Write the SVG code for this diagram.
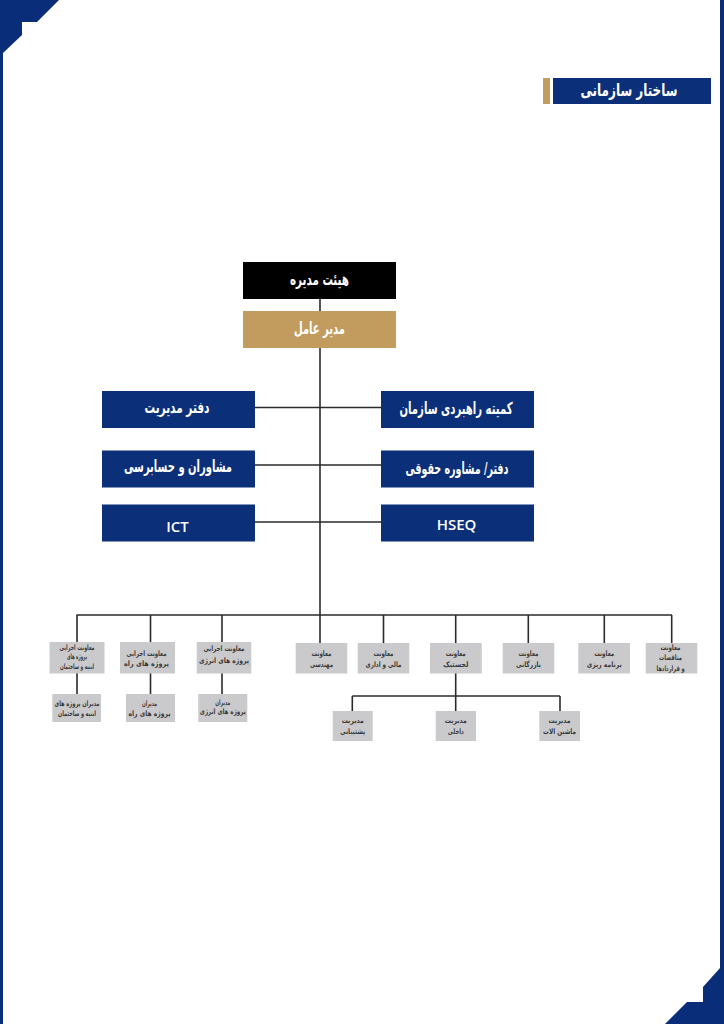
<svg xmlns="http://www.w3.org/2000/svg" width="724" height="1024" viewBox="0 0 724 1024">
<style>
.bg{fill:#ffffff}
.frame{fill:#0a2d7a}
.blue{fill:#0c2f79}
.black{fill:#000000}
.gold{fill:#c29c5e}
.gray{fill:#cacacc}
.line{stroke:#2a2a2a;stroke-width:1.6;fill:none}
.tw{font-family:"DejaVu Sans",sans-serif;font-weight:bold;fill:#ffffff;text-anchor:middle;dominant-baseline:central}
.tl{font-family:"Open Sans","Liberation Sans",sans-serif;font-weight:600;fill:#ffffff;text-anchor:middle;dominant-baseline:central;font-size:15px}
.ts{font-family:"DejaVu Sans",sans-serif;font-weight:bold;fill:#3a3a3a;text-anchor:middle;dominant-baseline:central;font-size:7.5px}
</style>
<rect class="bg" x="0" y="0" width="724" height="1024"/>
<g id="frame">
<polygon class="frame" points="0,0 59,0 37,22 22,22 22,35 3,53 3,1024 0,1024"/>
<polygon class="frame" points="720,0 724,0 724,1024 665,1024 687,1002 703,1002 703,987 720,968"/>
</g>
<g id="title">
<rect class="gold" x="543" y="78" width="7" height="26"/>
<rect class="blue" x="553" y="78" width="158" height="26"/>
<text class="tw" x="629" y="90" font-size="17" textLength="97" lengthAdjust="spacingAndGlyphs">ساختار سازمانی</text>
</g>
<g id="connectors">
<line class="line" x1="320" y1="299" x2="320" y2="311"/>
<line class="line" x1="320" y1="348" x2="320" y2="615"/>
<line class="line" x1="255" y1="407.5" x2="381" y2="407.5"/>
<line class="line" x1="255" y1="465" x2="381" y2="465"/>
<line class="line" x1="255" y1="522" x2="381" y2="522"/>
<line class="line" x1="76.5" y1="615" x2="672" y2="615"/>
<line class="line" x1="77" y1="615" x2="77" y2="642"/>
<line class="line" x1="150.5" y1="615" x2="150.5" y2="643"/>
<line class="line" x1="222" y1="615" x2="222" y2="643"/>
<line class="line" x1="320" y1="615" x2="320" y2="643"/>
<line class="line" x1="383.5" y1="615" x2="383.5" y2="643"/>
<line class="line" x1="455.7" y1="615" x2="455.7" y2="643"/>
<line class="line" x1="528.3" y1="615" x2="528.3" y2="643"/>
<line class="line" x1="604.3" y1="615" x2="604.3" y2="643"/>
<line class="line" x1="671.7" y1="615" x2="671.7" y2="643"/>
<line class="line" x1="77" y1="673" x2="77" y2="694"/>
<line class="line" x1="150.5" y1="673" x2="150.5" y2="694"/>
<line class="line" x1="222" y1="673" x2="222" y2="694"/>
<line class="line" x1="455.7" y1="673" x2="455.7" y2="711"/>
<line class="line" x1="352.3" y1="696" x2="560" y2="696"/>
<line class="line" x1="352.3" y1="696" x2="352.3" y2="711"/>
<line class="line" x1="560" y1="696" x2="560" y2="711"/>
</g>
<g id="board">
<rect class="black" x="243" y="262" width="153" height="37"/>
<text class="tw" x="319.5" y="279" font-size="16.5" textLength="59" lengthAdjust="spacingAndGlyphs">هیئت مدیره</text>
</g>
<g id="ceo">
<rect class="gold" x="243" y="311" width="153" height="37"/>
<text class="tw" x="319.5" y="328" font-size="16.5" textLength="51" lengthAdjust="spacingAndGlyphs">مدیر عامل</text>
</g>
<g id="office">
<rect class="blue" x="102" y="391" width="153" height="37"/>
<text class="tw" x="177" y="407.5" font-size="16.5" textLength="65" lengthAdjust="spacingAndGlyphs">دفتر مدیریت</text>
</g>
<g id="committee">
<rect class="blue" x="381" y="391" width="153" height="37"/>
<text class="tw" x="456" y="408" font-size="16.5" textLength="113" lengthAdjust="spacingAndGlyphs">کمیته راهبردی سازمان</text>
</g>
<g id="audit">
<rect class="blue" x="102" y="450.5" width="153" height="37"/>
<text class="tw" x="178" y="466" font-size="16.5" textLength="108" lengthAdjust="spacingAndGlyphs">مشاوران و حسابرسی</text>
</g>
<g id="legal">
<rect class="blue" x="381" y="450.5" width="153" height="37"/>
<text class="tw" x="457" y="468" font-size="16.5" textLength="103" lengthAdjust="spacingAndGlyphs">دفتر/ مشاوره حقوقی</text>
</g>
<g id="ict">
<rect class="blue" x="102" y="504.5" width="153" height="37"/>
<text class="tl" x="177.5" y="526">ICT</text>
</g>
<g id="hseq">
<rect class="blue" x="381" y="504.5" width="153" height="37"/>
<text class="tl" x="456.5" y="524">HSEQ</text>
</g>
<g id="v-building">
<rect class="gray" x="49.5" y="642" width="55" height="31.5"/>
<text class="ts" x="77" y="647.5" textLength="35" lengthAdjust="spacingAndGlyphs">معاونت اجرایی</text>
<text class="ts" x="77" y="656.7" textLength="20" lengthAdjust="spacingAndGlyphs">پروژه های</text>
<text class="ts" x="77" y="666" textLength="34" lengthAdjust="spacingAndGlyphs">ابنیه و ساختمان</text>
</g>
<g id="v-road">
<rect class="gray" x="120" y="642" width="55" height="31.5"/>
<text class="ts" x="146.5" y="653" textLength="40" lengthAdjust="spacingAndGlyphs">معاونت اجرایی</text>
<text class="ts" x="146.5" y="663" textLength="45" lengthAdjust="spacingAndGlyphs">پروژه های راه</text>
</g>
<g id="v-energy">
<rect class="gray" x="196.7" y="642" width="54.6" height="31.5"/>
<text class="ts" x="224" y="648.5" textLength="41" lengthAdjust="spacingAndGlyphs">معاونت اجرایی</text>
<text class="ts" x="224" y="660" textLength="50" lengthAdjust="spacingAndGlyphs">پروژه های انرژی</text>
</g>
<g id="v-eng">
<rect class="gray" x="295.7" y="643" width="51.6" height="30.5"/>
<text class="ts" x="321.5" y="653" textLength="20" lengthAdjust="spacingAndGlyphs">معاونت</text>
<text class="ts" x="321.5" y="664" textLength="23" lengthAdjust="spacingAndGlyphs">مهندسی</text>
</g>
<g id="v-fin">
<rect class="gray" x="357.7" y="643" width="51.6" height="30.5"/>
<text class="ts" x="383.5" y="653" textLength="20" lengthAdjust="spacingAndGlyphs">معاونت</text>
<text class="ts" x="383.5" y="664" textLength="36" lengthAdjust="spacingAndGlyphs">مالی و اداری</text>
</g>
<g id="v-log">
<rect class="gray" x="430" y="643" width="51.7" height="30.5"/>
<text class="ts" x="455.8" y="653" textLength="20" lengthAdjust="spacingAndGlyphs">معاونت</text>
<text class="ts" x="455.8" y="664" textLength="25" lengthAdjust="spacingAndGlyphs">لجستیک</text>
</g>
<g id="v-com">
<rect class="gray" x="502.7" y="643" width="51.6" height="30.5"/>
<text class="ts" x="528.5" y="653" textLength="20" lengthAdjust="spacingAndGlyphs">معاونت</text>
<text class="ts" x="528.5" y="664" textLength="25" lengthAdjust="spacingAndGlyphs">بازرگانی</text>
</g>
<g id="v-plan">
<rect class="gray" x="578.3" y="643" width="51.7" height="30.5"/>
<text class="ts" x="604.2" y="653" textLength="20" lengthAdjust="spacingAndGlyphs">معاونت</text>
<text class="ts" x="604.2" y="664" textLength="35" lengthAdjust="spacingAndGlyphs">برنامه ریزی</text>
</g>
<g id="v-tender">
<rect class="gray" x="645.7" y="643" width="51.6" height="30.5"/>
<text class="ts" x="670.5" y="647.5" textLength="20" lengthAdjust="spacingAndGlyphs">معاونت</text>
<text class="ts" x="670.5" y="657.5" textLength="23" lengthAdjust="spacingAndGlyphs">مناقصات</text>
<text class="ts" x="670.5" y="668" textLength="28" lengthAdjust="spacingAndGlyphs">و قراردادها</text>
</g>
<g id="m-building">
<rect class="gray" x="52.3" y="694" width="48.7" height="28"/>
<text class="ts" x="77" y="703" textLength="45" lengthAdjust="spacingAndGlyphs">مدیران پروژه های</text>
<text class="ts" x="77" y="713" textLength="38" lengthAdjust="spacingAndGlyphs">ابنیه و ساختمان</text>
</g>
<g id="m-road">
<rect class="gray" x="126" y="694" width="49" height="28"/>
<text class="ts" x="149.5" y="703" textLength="15" lengthAdjust="spacingAndGlyphs">مدیران</text>
<text class="ts" x="149.5" y="713" textLength="42" lengthAdjust="spacingAndGlyphs">پروژه های راه</text>
</g>
<g id="m-energy">
<rect class="gray" x="198.3" y="694" width="49" height="28"/>
<text class="ts" x="222.8" y="702" textLength="15" lengthAdjust="spacingAndGlyphs">مدیران</text>
<text class="ts" x="222.8" y="711.5" textLength="46" lengthAdjust="spacingAndGlyphs">پروژه های انرژی</text>
</g>
<g id="m-support">
<rect class="gray" x="332.7" y="711" width="40" height="30"/>
<text class="ts" x="352.7" y="720" textLength="22" lengthAdjust="spacingAndGlyphs">مدیریت</text>
<text class="ts" x="352.7" y="731" textLength="25" lengthAdjust="spacingAndGlyphs">پشتیبانی</text>
</g>
<g id="m-internal">
<rect class="gray" x="435.7" y="711" width="40.3" height="30"/>
<text class="ts" x="455.8" y="720" textLength="22" lengthAdjust="spacingAndGlyphs">مدیریت</text>
<text class="ts" x="455.8" y="731" textLength="16" lengthAdjust="spacingAndGlyphs">داخلی</text>
</g>
<g id="m-machinery">
<rect class="gray" x="539.3" y="711" width="40.7" height="30"/>
<text class="ts" x="559.6" y="720" textLength="22" lengthAdjust="spacingAndGlyphs">مدیریت</text>
<text class="ts" x="559.6" y="731" textLength="33" lengthAdjust="spacingAndGlyphs">ماشین الات</text>
</g>
</svg>
